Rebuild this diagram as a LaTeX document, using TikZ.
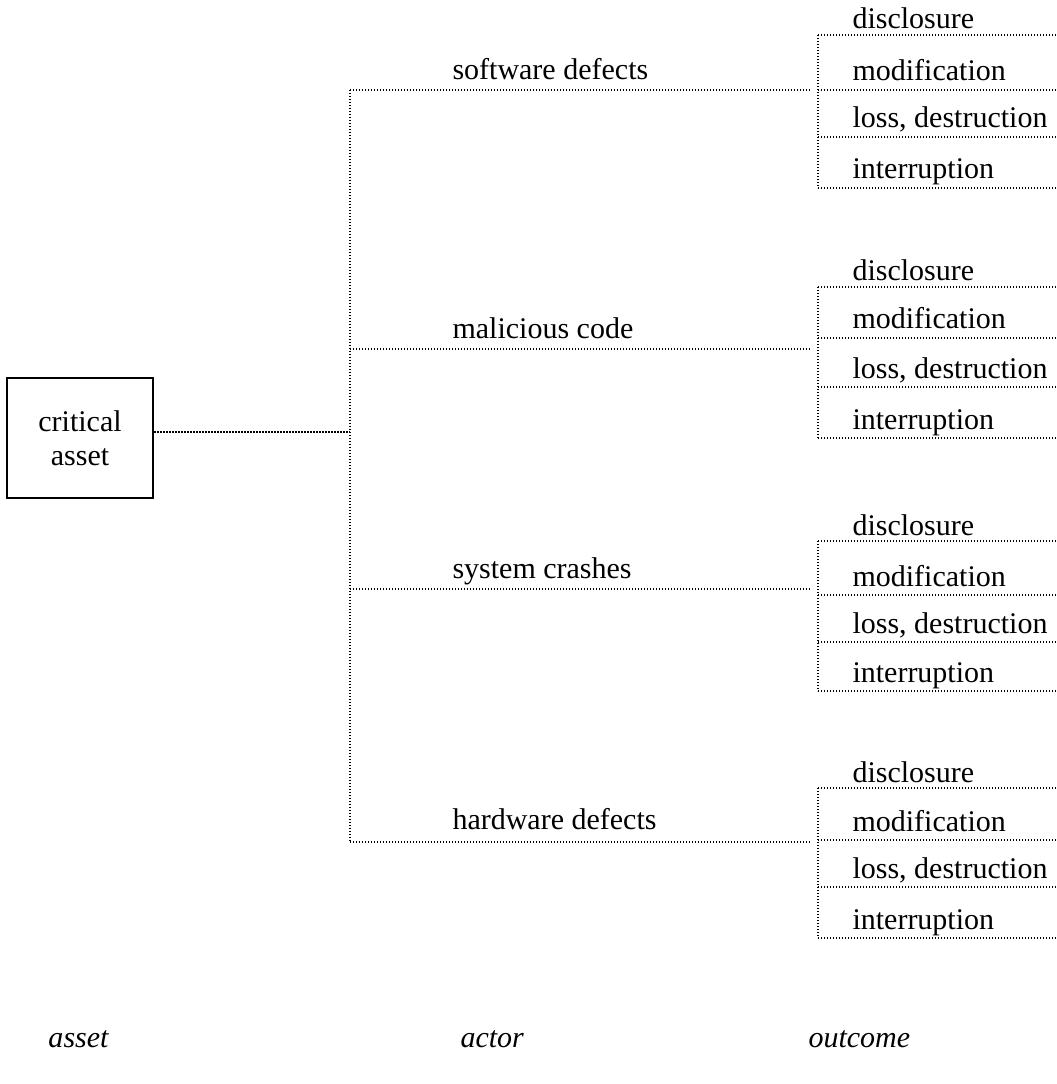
\documentclass[tikz,border=0pt]{standalone}
\usepackage{fontspec}
\setmainfont{Liberation Serif}
\tikzset{
  dots/.style={line width=0.55pt, dash pattern=on 0.55pt off 0.65pt},
  lbl/.style={anchor=base west, inner sep=0pt, font=\fontsize{12}{14}\selectfont},
  axis/.style={lbl, font=\fontsize{12}{14}\selectfont\itshape},
}
\begin{document}
\begin{tikzpicture}[x=0.4pt,y=-0.4pt]
            \useasboundingbox (0,0) rectangle (1056,1084);
            \node[draw, line width=0.9pt, minimum width=58.4pt, minimum height=48pt, align=center, font=\fontsize{12}{13.6}\selectfont] (A) at (80,438) {critical\\asset};
            \coordinate (J) at (350,432);
            \coordinate (R) at (1056,0);
            \coordinate (S) at (810,0);

            \coordinate (T1) at (350,90); \coordinate (T2) at (350,349); \coordinate (T3) at (350,589); \coordinate (T4) at (350,842);
            \node[lbl] (SD) at (452,80) {software defects};
            \node[lbl] (MC) at (452,338) {malicious code};
            \node[lbl] (SC) at (452,578) {system crashes};
            \node[lbl] (HD) at (452,829) {hardware defects};

            \draw[dots] (A.east |- J) -- (J);
            \draw[dots] (T1) -- (T4);
            \draw[dots] (T1) -- (T1 -| S); \draw[dots] (T2) -- (T2 -| S); \draw[dots] (T3) -- (T3 -| S); \draw[dots] (T4) -- (T4 -| S);

            % outcomes, software defects
            \coordinate (O11) at (818,35); \coordinate (O12) at (818,90); \coordinate (O13) at (818,137); \coordinate (O14) at (818,188);
            \node[lbl] (D1) at (852,29) {disclosure}; \node[lbl] (M1) at (852,81) {modification}; \node[lbl] (L1) at (852,128) {loss, destruction}; \node[lbl] (I1) at (852,179) {interruption};
            \draw[dots] (O11) -- (O14);
            \draw[dots] (O11) -- (O11 -| R); \draw[dots] (O12) -- (O12 -| R); \draw[dots] (O13) -- (O13 -| R); \draw[dots] (O14) -- (O14 -| R);

            % outcomes, malicious code
            \coordinate (O21) at (818,287); \coordinate (O22) at (818,338); \coordinate (O23) at (818,387); \coordinate (O24) at (818,438);
            \node[lbl] (D2) at (852,281) {disclosure}; \node[lbl] (M2) at (852,329) {modification}; \node[lbl] (L2) at (852,378) {loss, destruction}; \node[lbl] (I2) at (852,429) {interruption};
            \draw[dots] (O21) -- (O24);
            \draw[dots] (O21) -- (O21 -| R); \draw[dots] (O22) -- (O22 -| R); \draw[dots] (O23) -- (O23 -| R); \draw[dots] (O24) -- (O24 -| R);

            % outcomes, system crashes
            \coordinate (O31) at (818,541); \coordinate (O32) at (818,595); \coordinate (O33) at (818,642); \coordinate (O34) at (818,691);
            \node[lbl] (D3) at (852,535) {disclosure}; \node[lbl] (M3) at (852,586) {modification}; \node[lbl] (L3) at (852,633) {loss, destruction}; \node[lbl] (I3) at (852,682) {interruption};
            \draw[dots] (O31) -- (O34);
            \draw[dots] (O31) -- (O31 -| R); \draw[dots] (O32) -- (O32 -| R); \draw[dots] (O33) -- (O33 -| R); \draw[dots] (O34) -- (O34 -| R);

            % outcomes, hardware defects
            \coordinate (O41) at (818,788); \coordinate (O42) at (818,840); \coordinate (O43) at (818,887); \coordinate (O44) at (818,938);
            \node[lbl] (D4) at (852,782) {disclosure}; \node[lbl] (M4) at (852,831) {modification}; \node[lbl] (L4) at (852,878) {loss, destruction}; \node[lbl] (I4) at (852,929) {interruption};
            \draw[dots] (O41) -- (O44);
            \draw[dots] (O41) -- (O41 -| R); \draw[dots] (O42) -- (O42 -| R); \draw[dots] (O43) -- (O43 -| R); \draw[dots] (O44) -- (O44 -| R);

            \node[axis] (AS) at (48,1047) {asset};
            \node[axis] (AC) at (460,1047) {actor};
            \node[axis] (OC) at (808,1047) {outcome};
\end{tikzpicture}
\end{document}
